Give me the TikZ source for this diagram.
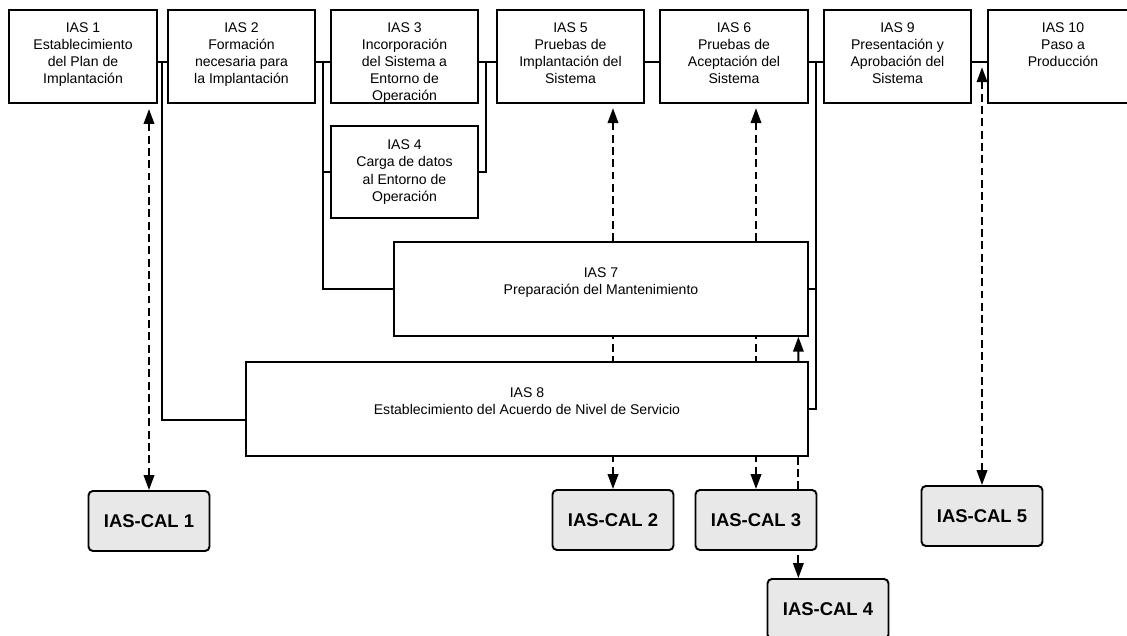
\documentclass[tikz,border=0pt]{standalone}
\usepackage{fontspec}
\setmainfont{Liberation Sans}
\usetikzlibrary{arrows.meta,backgrounds}

\newcommand{\boxlines}[1]{\begin{tabular}[t]{@{}c@{}}#1\end{tabular}}

\begin{document}
\begin{tikzpicture}[x=0.02cm,y=-0.02cm,
task/.style ={rectangle, draw, line width=1.1pt, fill=white,
  inner sep=0pt, minimum width=2.95cm,
  font=\fontsize{8}{9.7}\selectfont,
  text height=12.5pt, text depth=40.2pt
},
bigtask/.style ={task, text height=20pt, text depth=33.3pt},
calbox/.style ={rectangle, draw, line width=1.1pt, fill=black!9,
  rounded corners=2.5pt, inner sep=0pt,
  minimum width=2.42cm, minimum height=1.2cm,
  font=\bfseries\fontsize{10.5}{12}\selectfont
},
link/.style ={line width=1.1pt},
arr/.style ={line width=1.1pt, -{Triangle[length=8.5pt,width=6pt]}},
dasharr/.style ={line width=1.1pt, dash pattern=on 4.5pt off 2.5pt,
  -{Triangle[length=8.5pt,width=6pt]}},
dasharrs/.style ={dasharr,
  {Triangle[length=8.5pt,width=6pt]}-{Triangle[length=8.5pt,width=6pt]}}]
\useasboundingbox (0,0) rectangle (1127,636);

\node (ias1) at (83,56.5) [task] {\boxlines{IAS 1\\Establecimiento\\del Plan de\\Implantación}};
\node (ias2) at (241.5,56.5) [task] {\boxlines{IAS 2\\Formación\\necesaria para\\la Implantación}};
\node (ias3) at (404.5,56.5) [task] {\boxlines{IAS 3\\Incorporación\\del Sistema a\\Entorno de\\Operación}};
\node (ias4) at (404.5,172) [task, text height=13.5pt, text depth=38.6pt] {\boxlines{IAS 4\\Carga de datos\\al Entorno de\\Operación}};
\node (ias5) at (570.5,56.5) [task] {\boxlines{IAS 5\\Pruebas de\\Implantación del\\Sistema}};
\node (ias6) at (734,56.5) [task] {\boxlines{IAS 6\\Pruebas de\\Aceptación del\\Sistema}};
\node (ias9) at (897.5,56.5) [task] {\boxlines{IAS 9\\Presentación y\\Aprobación del\\Sistema}};
\node (ias10) at (1063,56.5) [task, minimum width=3cm] {\boxlines{IAS 10\\Paso a\\Producción}};

\node (ias7) at (601,289) [bigtask, minimum width=8.28cm] {\boxlines{IAS 7\\Preparación del Mantenimiento}};
\node (ias8) at (527,409) [bigtask, minimum width=11.24cm] {\boxlines{IAS 8\\Establecimiento del Acuerdo de Nivel de Servicio}};

\node (cal1) at (149,521) [calbox] {IAS-CAL 1};
\node (cal2) at (613,520) [calbox] {IAS-CAL 2};
\node (cal3) at (756,520) [calbox] {IAS-CAL 3};
\node (cal4) at (828,609) [calbox] {IAS-CAL 4};
\node (cal5) at (982,516) [calbox] {IAS-CAL 5};

\coordinate (j1) at (162,62);
\coordinate (j2) at (323,62);
\coordinate (j3) at (486,62);
\coordinate (j6) at (816,62);
\coordinate (j9) at (980,62);

\draw[link] (ias1.east |- j1) -- (ias2.west |- j1);
\draw[link] (j1) |- ([yshift=-6pt]ias8.west);
\draw[link] (ias2.east |- j2) -- (ias3.west |- j2);
\draw[link] (j2) |- (ias7.west);
\draw[link] (j2 |- ias4.west) -- (ias4.west);
\draw[link] (ias3.east |- j3) -- (ias5.west |- j3);
\draw[link] (j3) |- (ias4.east);
\draw[link] (ias5.east |- j3) -- (ias6.west |- j3);
\draw[link] (ias6.east |- j6) -- (ias9.west |- j6);
\draw[link] (j6) |- (ias8.east);
\draw[link] (j6 |- ias7.east) -- (ias7.east);
\draw[link] (ias9.east |- j9) -- (ias10.west |- j9);

\draw[arr] ([xshift=-6pt]ias8.north east) -- ([xshift=-6pt]ias7.south east);

\begin{pgfonlayer}{background}
\draw[dasharrs, shorten >=3pt] (cal1.north) -- (cal1.north |- ias1.south);
\draw[dasharrs, shorten >=2.5pt] (cal2.north) -- (cal2.north |- ias5.south);
\draw[dasharrs, shorten >=2.5pt] (cal3.north) -- (cal3.north |- ias6.south);
\draw[dasharrs, shorten >=3pt] (cal5.north) -- (cal5.north |- j9);
\draw[dasharr] ([xshift=-6pt]ias8.south east) -- ([xshift=-6pt]ias8.south east |- cal4.north);
\end{pgfonlayer}

\end{tikzpicture}
\end{document}
